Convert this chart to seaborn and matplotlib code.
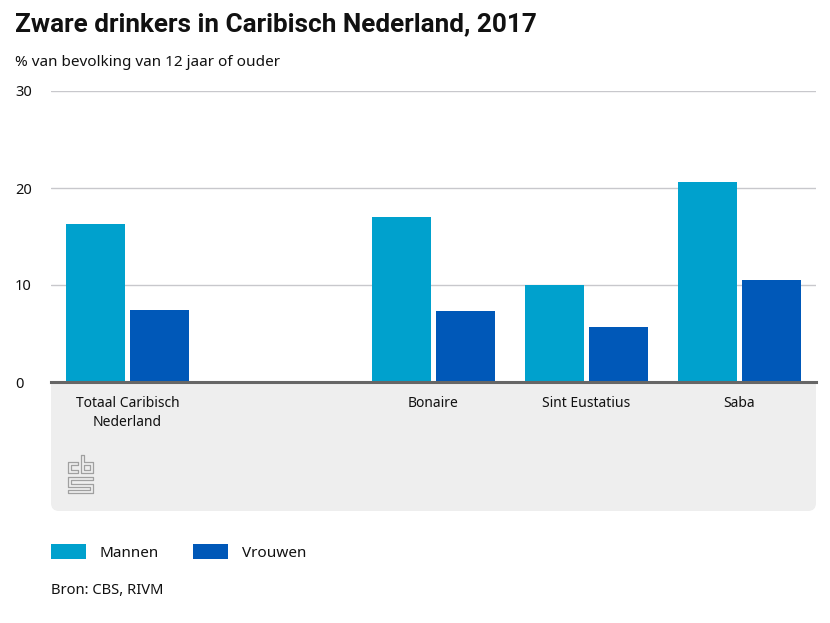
import matplotlib.pyplot as plt
import numpy as np
import pandas as pd
import seaborn as sns
from matplotlib.patches import FancyBboxPatch, Rectangle
from matplotlib.transforms import IdentityTransform

W, H = 830, 623

regions = ["Totaal Caribisch\nNederland", " ", "Bonaire", "Sint Eustatius", "Saba"]
mannen = [16.3, np.nan, 17.0, 10.0, 20.6]
vrouwen = [7.4, np.nan, 7.3, 5.7, 10.5]
y_ticks = [0, 10, 20, 30]
colors = {"Mannen": "#00a1cd", "Vrouwen": "#0058b8"}

df = pd.DataFrame({"regio": regions, "Mannen": mannen, "Vrouwen": vrouwen})
long_df = df.melt(id_vars="regio", var_name="geslacht", value_name="pct")

sns.set_theme(style="white")
plt.rcParams["font.family"] = ["Noto Sans", "DejaVu Sans"]
plt.rcParams["text.color"] = "#111111"


def fx(px):
    return px / W


def fy(px):
    return 1 - px / H


fig = plt.figure(figsize=(W / 100, H / 100), dpi=100)
ax = fig.add_axes([fx(51), fy(382), (816 - 51) / W, (382 - 91) / H])

# grey panel below the baseline, only the bottom corners are rounded
fig.add_artist(FancyBboxPatch(
    (51 + 8, H - 511 + 8), 765 - 16, 60,
    boxstyle="round,pad=8,rounding_size=8", transform=IdentityTransform(),
    fc="#eeeeee", lw=0, zorder=-1,
))
fig.add_artist(Rectangle((fx(51), fy(480)), 765 / W, 98 / H,
                         transform=fig.transFigure, fc="#eeeeee", lw=0, zorder=-1))

sns.barplot(
    data=long_df, x="regio", y="pct", hue="geslacht", palette=colors,
    width=0.837, gap=0.08, saturation=1, linewidth=0, ax=ax, zorder=3,
)
ax.patch.set_alpha(0)
ax.set_xlim(-0.5, 4.5)
ax.set_ylim(0, 30)
ax.set_xlabel("")
ax.set_ylabel("")
ax.set_yticks(y_ticks)
ax.yaxis.grid(True, color="#c8c8cc", lw=1.0)
ax.set_axisbelow(True)
sns.despine(ax=ax, left=True, top=True, right=True)
ax.spines["bottom"].set_color("#666666")
ax.spines["bottom"].set_linewidth(2.2)
ax.spines["bottom"].set_zorder(5)
ax.tick_params(axis="x", length=0, pad=10, labelsize=10, colors="#111111")
ax.tick_params(axis="y", length=0, pad=26, labelsize=10.5, colors="#111111")
for lab in ax.get_yticklabels():
    lab.set_horizontalalignment("left")
for lab in ax.get_xticklabels():
    lab.set_linespacing(1.4)

sns.move_legend(
    ax, "center left", bbox_to_anchor=(fx(51), fy(552.5)), bbox_transform=fig.transFigure,
    ncols=2, frameon=False, title=None, fontsize=11, borderpad=0, borderaxespad=0,
    handlelength=2.3, handleheight=1.05, handletextpad=0.9, columnspacing=2.2,
)

fig.text(fx(15), fy(24), "Zware drinkers in Caribisch Nederland, 2017",
         fontsize=18.8, fontweight="bold", family=["Roboto", "DejaVu Sans"],
         va="center", ha="left")
fig.text(fx(15), fy(62), "% van bevolking van 12 jaar of ouder",
         fontsize=11, va="center", ha="left")
fig.text(fx(51), fy(591), "Bron: CBS, RIVM", fontsize=10.6, va="center", ha="left")

# cbs logo, drawn as thin outlines
logo_paths = [
    [(78, 462), (68, 462), (68, 473), (78, 473), (78, 470), (71, 470), (71, 465), (78, 465), (78, 462)],
    [(81, 455), (84, 455), (84, 462), (93, 462), (93, 473), (81, 473), (81, 455)],
    [(84, 465), (90, 465), (90, 470), (84, 470), (84, 465)],
    [(68, 477), (93, 477), (93, 480), (71, 480), (71, 484), (93, 484), (93, 493), (68, 493),
     (68, 490), (90, 490), (90, 487), (68, 487), (68, 477)],
]
for path in logo_paths:
    xs = [fx(p[0]) for p in path]
    ys = [fy(p[1]) for p in path]
    fig.add_artist(plt.Line2D(xs, ys, color="#a0a0a0", lw=0.9, transform=fig.transFigure))

fig.savefig("out.png", dpi=100)
